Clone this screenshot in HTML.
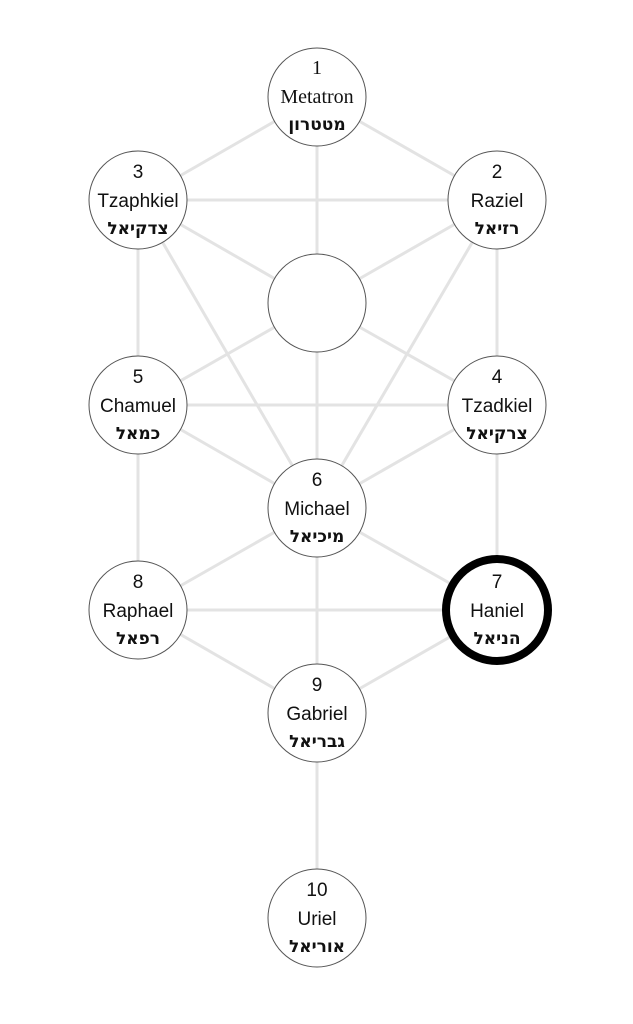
<!DOCTYPE html>
<html><head><meta charset="utf-8"><style>html,body{margin:0;padding:0;background:#fff}svg{display:block}</style></head><body>
<svg width="633" height="1024" viewBox="0 0 633 1024" xmlns="http://www.w3.org/2000/svg">
<g stroke="#e3e3e3" stroke-width="3" fill="none">
<line x1="317" y1="97" x2="497" y2="200"/><line x1="317" y1="97" x2="138" y2="200"/>
<line x1="317" y1="97" x2="317" y2="508"/>
<line x1="138" y1="200" x2="497" y2="200"/>
<line x1="138" y1="200" x2="138" y2="610"/><line x1="497" y1="200" x2="497" y2="610"/>
<line x1="138" y1="200" x2="317" y2="508"/><line x1="497" y1="200" x2="317" y2="508"/>
<line x1="138" y1="200" x2="317" y2="303"/><line x1="497" y1="200" x2="317" y2="303"/>
<line x1="138" y1="405" x2="317" y2="303"/><line x1="497" y1="405" x2="317" y2="303"/>
<line x1="138" y1="405" x2="497" y2="405"/>
<line x1="138" y1="405" x2="317" y2="508"/><line x1="497" y1="405" x2="317" y2="508"/>
<line x1="138" y1="610" x2="317" y2="508"/><line x1="497" y1="610" x2="317" y2="508"/>
<line x1="317" y1="508" x2="317" y2="918"/>
<line x1="138" y1="610" x2="497" y2="610"/>
<line x1="138" y1="610" x2="317" y2="713"/><line x1="497" y1="610" x2="317" y2="713"/>
</g>
<g fill="#fff" stroke="#555" stroke-width="1">
<circle cx="317" cy="97" r="49"/><circle cx="138" cy="200" r="49"/><circle cx="497" cy="200" r="49"/>
<circle cx="317" cy="303" r="49"/><circle cx="138" cy="405" r="49"/><circle cx="497" cy="405" r="49"/>
<circle cx="317" cy="508" r="49"/><circle cx="138" cy="610" r="49"/>
<circle cx="317" cy="713" r="49"/><circle cx="317" cy="918" r="49"/>
</g>
<circle cx="497" cy="610" r="51" fill="#fff" stroke="#000" stroke-width="8"/>
<g font-size="19" text-anchor="middle" fill="#111">
<g font-family="Liberation Serif, serif" font-size="20"><text x="317" y="74">1</text><text x="317" y="103">Metatron</text></g>
<g font-family="Liberation Sans, sans-serif">
<text x="138" y="178">3</text><text x="138" y="207">Tzaphkiel</text>
<text x="497" y="178">2</text><text x="497" y="207">Raziel</text>
<text x="138" y="383">5</text><text x="138" y="412">Chamuel</text>
<text x="497" y="383">4</text><text x="497" y="412">Tzadkiel</text>
<text x="317" y="486">6</text><text x="317" y="515">Michael</text>
<text x="138" y="588">8</text><text x="138" y="617">Raphael</text>
<text x="497" y="588">7</text><text x="497" y="617">Haniel</text>
<text x="317" y="691">9</text><text x="317" y="720">Gabriel</text>
<text x="317" y="896">10</text><text x="317" y="925">Uriel</text>
</g>
<g font-family="DejaVu Sans, sans-serif" font-weight="bold" font-size="17">
<text x="317" y="130">מטטרון</text>
<text x="138" y="234">צדקיאל</text><text x="497" y="234">רזיאל</text>
<text x="138" y="439">כמאל</text><text x="497" y="439">צרקיאל</text>
<text x="317" y="542">מיכיאל</text><text x="138" y="644">רפאל</text>
<text x="497" y="644">הניאל</text><text x="317" y="747">גבריאל</text>
<text x="317" y="952">אוריאל</text>
</g>
</g>
</svg>
</body></html>
